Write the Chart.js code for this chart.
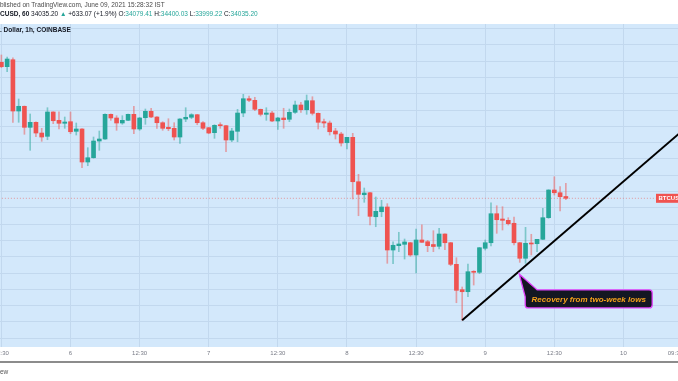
<!DOCTYPE html>
<html><head><meta charset="utf-8">
<script src="https://cdn.jsdelivr.net/npm/chart.js@4.4.0/dist/chart.umd.min.js"></script>
<style>
html,body{margin:0;padding:0;background:#fff;width:678px;height:381px;overflow:hidden;}
#wrap{position:relative;width:678px;height:381px;}
canvas{position:absolute;left:0;top:0;}
.t{position:absolute;left:0;white-space:nowrap;font-family:"Liberation Sans",Arial,sans-serif;line-height:1;}
.g{color:#26a69a;}
</style></head><body>
<div id="wrap">
<canvas id="c" width="678" height="381"></canvas>
<div class="t" style="top:2px;font-size:6.5px;color:#4a4a4a">blished on TradingView.com, June 09, 2021 15:28:32 IST</div>
<div class="t" style="top:11px;font-size:6.5px;color:#131722"><b>CUSD, 60</b> 34035.20 <span class="g">▲</span> +633.07 (+1.9%) O:<span class="g">34079.41</span> H:<span class="g">34400.03</span> L:<span class="g">33999.22</span> C:<span class="g">34035.20</span></div>
<div class="t" style="top:27px;font-size:6.5px;font-weight:bold;color:#131722">. Dollar, 1h, COINBASE</div>
<div style="position:absolute;left:0;top:361px;width:678px;height:2px;background:#8c8c8c"></div>
<div class="t" style="top:369px;font-size:6.5px;color:#555">ew</div>
</div>
<script>
const hours = [-12,-11,-10,-9,-8,-7,-6,-5,-4,-3,-2,-1,0,1,2,3,4,5,6,7,8,9,10,11,12,13,14,15,16,17,18,19,20,21,22,23,24,25,26,27,28,29,30,31,32,33,34,35,36,37,38,39,40,41,42,43,44,45,46,47,48,49,50,51,52,53,54,55,56,57,58,59,60,61,62,63,64,65,66,67,68,69,70,71,72,73,74,75,76,77,78,79,80,81,82,83,84,85,86];
const opens = [37372,37265,37436,36177,36293,35777,35900,35637,35556,36153,35949,35876,35915,35679,35736,34926,35031,35441,35490,36096,36006,35883,35949,36096,35736,36013,36170,36030,35890,35777,35753,35539,35981,36023,36087,35890,35768,35645,35841,35817,35466,35679,36128,36479,36440,36219,36096,36128,35932,36006,35974,36145,36325,36209,36430,36121,35915,35883,35687,35613,35399,35532,34442,34123,34172,33583,33706,33822,32766,32872,32906,32945,32644,33012,32970,32901,32857,33159,32945,32415,31792,31743,32244,32219,32808,32945,33657,33527,33495,33422,32945,32563,32938,32921,33029,33559,34239,34172,34079.41];
const highs = [37552,37503,37485,36472,36300,36104,35910,35753,36258,36160,36160,36030,36153,35883,35745,35277,35539,35687,36106,36105,36062,36062,36105,36293,36020,36226,36244,36040,35915,35988,35890,35990,36258,36111,36095,35915,35775,35841,35890,35825,35753,36219,36587,36545,36514,36225,36258,36170,36023,36244,36226,36423,36391,36570,36528,36130,35981,35932,35753,35655,35532,35630,34624,34288,34180,34067,33986,33903,32970,33201,33036,32955,33282,33387,33004,33240,33299,33165,32955,32577,31858,32423,32258,32830,33012,33927,33853,33829,33559,33576,32955,33323,33152,33030,33790,34245,34565,34320,34400.03];
const lows = [37240,37142,35900,35900,35606,35213,35547,35434,35473,35866,35736,35753,35620,35588,34786,34835,35020,35213,35480,35949,35704,35851,35940,35620,35704,35851,36013,35753,35704,35694,35466,35385,35915,35988,35841,35718,35620,35507,35753,35179,35424,35424,36037,36406,36185,36055,35949,35915,35728,35753,35915,36121,36145,36096,36079,35736,35777,35588,35490,35318,35245,34018,33608,33937,33380,33338,33583,32440,32430,32725,32545,32612,32202,32950,32725,32725,32791,32774,32381,31473,31041,31620,31907,32185,32766,32864,33176,33257,33380,32889,32464,32440,32644,32725,33020,33544,34116,33723,33999.22];
const closes = [37265,37453,36177,36293,35777,35900,35637,35539,36153,35939,35876,35907,35669,35736,34926,35031,35441,35490,36096,36006,35883,35949,36096,35736,36006,36170,36030,35890,35753,35743,35539,35981,36023,36087,35890,35753,35637,35826,35817,35466,35687,36128,36479,36440,36219,36096,36128,35932,36006,35964,36145,36325,36209,36430,36121,35900,35883,35669,35613,35392,35532,34442,34133,34165,33593,33716,33822,32766,32882,32914,32963,32644,33012,32955,32872,32852,33159,32945,32415,31777,31743,32234,32219,32823,32945,33657,33510,33495,33412,32945,32563,32931,32914,33029,33559,34239,34172,34074,34035.20];
const lastPrice = 34035.20;
const tickHours = [-12,0,12,24,36,48,60,72,84,96,105];
const tickLabels = ['12:30','6','12:30','7','12:30','8','12:30','9','12:30','10','09:30'];
const priceGrid = [30600,31000,31400,31800,32200,32600,33000,33400,33800,34200,34600,35000,35400,35800,36200,36600,37000,37400,37800,38200];
const trendHours = [68,108];
const trendPrices = [31041,35910];
const calloutHour = 77.9, calloutPrice = 32180;
const calloutText = 'Recovery from two-week lows';
const symbolLabel = 'BTCUSD';

const UP = '#26a69a', DOWN = '#ef5350';
const isUp = closes.map((c,i)=>c>=opens[i]);
const FONT = '"Liberation Sans", Arial, sans-serif';

const bgPlugin = {
  id:'bg',
  beforeDraw(chart){
    const {ctx, chartArea:a} = chart;
    ctx.save();
    ctx.fillStyle = '#fff';
    ctx.fillRect(0,0,chart.width,chart.height);
    ctx.fillStyle = '#d3e8fb';
    ctx.fillRect(a.left, a.top, a.right-a.left, a.bottom-a.top);
    ctx.restore();
  }
};
const overlayPlugin = {
  id:'overlay',
  afterDatasetsDraw(chart){
    const {ctx, chartArea:a, scales:{x,y}} = chart;
    ctx.save();
    // symbol price label
    const py = y.getPixelForValue(lastPrice);
    const lx = a.right - 22;
    ctx.fillStyle = '#f05350';
    ctx.fillRect(lx, py-4.5, 30, 9);
    ctx.fillStyle = '#fff';
    ctx.font = 'bold 6px ' + FONT;
    ctx.textBaseline = 'middle';
    ctx.textAlign = 'left';
    ctx.fillText(symbolLabel, lx+2.5, py+0.5);
    // callout
    const tx = x.getPixelForValue(calloutHour), ty = y.getPixelForValue(calloutPrice);
    const left = tx+6, top = ty+16, w = 127, h = 18, r = 3;
    ctx.beginPath();
    ctx.moveTo(tx, ty);
    ctx.lineTo(left+12, top);
    ctx.lineTo(left+w-r, top);
    ctx.arcTo(left+w, top, left+w, top+r, r);
    ctx.lineTo(left+w, top+h-r);
    ctx.arcTo(left+w, top+h, left+w-r, top+h, r);
    ctx.lineTo(left+r, top+h);
    ctx.arcTo(left, top+h, left, top+h-r, r);
    ctx.lineTo(left, top+7);
    ctx.closePath();
    ctx.fillStyle = '#131722';
    ctx.fill();
    ctx.strokeStyle = '#e040fb';
    ctx.lineWidth = 1.3;
    ctx.stroke();
    ctx.fillStyle = '#f7a21b';
    ctx.font = 'italic bold 8px ' + FONT;
    ctx.textAlign = 'center';
    ctx.textBaseline = 'middle';
    ctx.fillText(calloutText, left+w/2, top+h/2+0.5);
    ctx.restore();
  }
};

new Chart(document.getElementById('c'), {
  type:'bar',
  data:{datasets:[
    {type:'line', data: trendHours.map((hh,i)=>({x:hh,y:trendPrices[i]})), borderColor:'#000', borderWidth:2, pointRadius:0, order:0},
    {data: hours.map((hh,i)=>({x:hh, y:[opens[i], closes[i]]})), backgroundColor: isUp.map(u=>u?UP:DOWN), barThickness:4, minBarLength:1, grouped:false, borderWidth:0, order:1},
    {data: hours.map((hh,i)=>({x:hh, y:[lows[i], highs[i]]})), backgroundColor: isUp.map(u=>u?'rgba(38,166,154,0.5)':'rgba(239,83,80,0.5)'), barThickness:1, grouped:false, borderWidth:0, order:2},
    {type:'line', data:[{x:-14,y:lastPrice},{x:110,y:lastPrice}], borderColor:'rgba(239,83,80,0.55)', borderWidth:1, borderDash:[1,2], pointRadius:0, order:3}
  ]},
  options:{
    responsive:false, animation:false, devicePixelRatio:1,
    layout:{padding:{top:24,bottom:19,left:0,right:0}},
    plugins:{legend:{display:false}, tooltip:{enabled:false}},
    scales:{
      x:{type:'linear', min:-12.24, max:105.47, offset:false,
        afterBuildTicks: s=>{ s.ticks = tickHours.map(v=>({value:v})); },
        ticks:{autoSkip:false, maxRotation:0, padding:3, color:'#787b86', font:{size:6, family:FONT},
          callback:(v,i)=>tickLabels[i]},
        grid:{offset:false, drawTicks:false, color: c => (c.tick && c.tick.value===105) ? 'rgba(0,0,0,0)' : '#c2d8ee'},
        border:{display:false},
        afterFit: s=>{ s.height = 15; s.paddingLeft = 0; s.paddingRight = 0; }
      },
      y:{type:'linear', min:30386.1, max:38312.5,
        afterBuildTicks: s=>{ s.ticks = priceGrid.map(v=>({value:v})); },
        ticks:{display:false},
        grid:{drawTicks:false, color:'#c2d8ee'},
        border:{display:false},
        afterFit: s=>{ s.width = 0; }
      }
    }
  },
  plugins:[bgPlugin, overlayPlugin]
});
</script>
</body></html>
